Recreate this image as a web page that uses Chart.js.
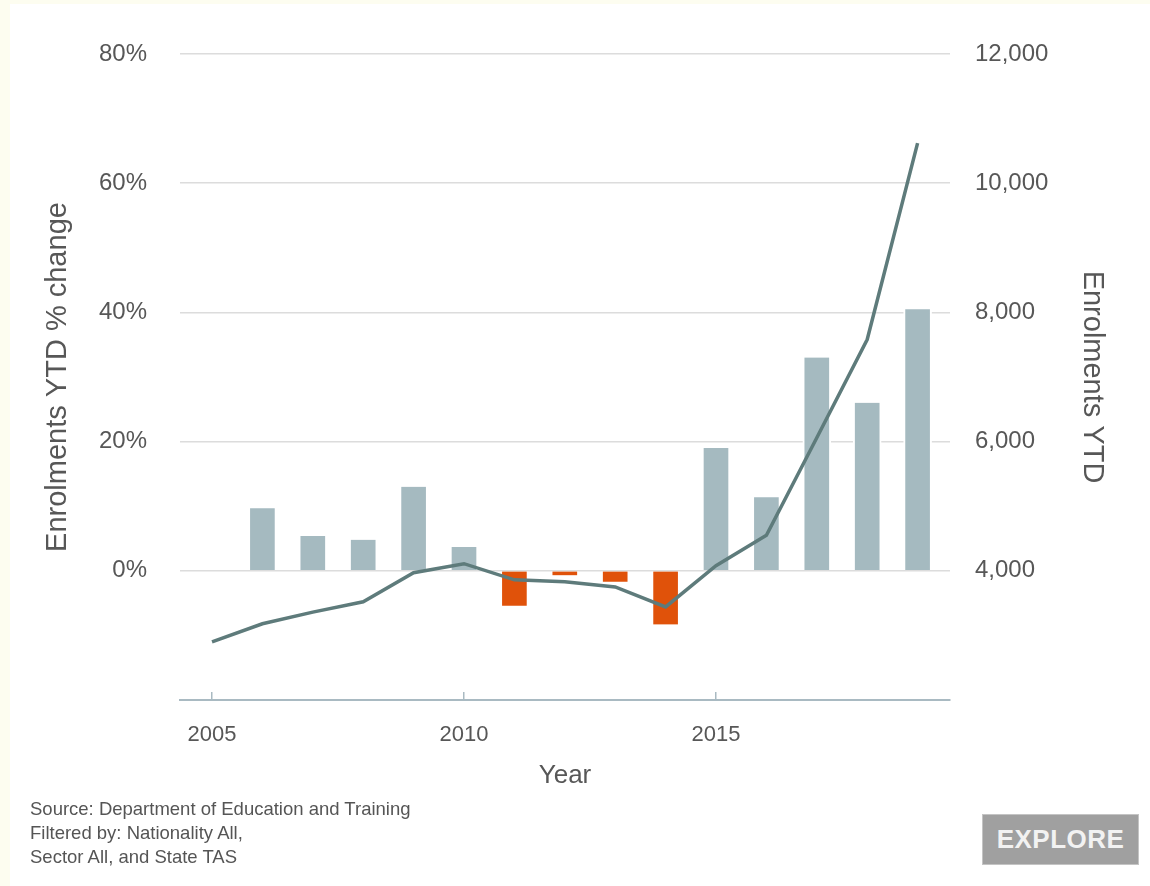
<!DOCTYPE html>
<html lang="en">
<head>
  <meta charset="UTF-8">
  <title>Enrolments YTD</title>
  <script src="https://cdn.jsdelivr.net/npm/chart.js"></script>
  <style>
    * { box-sizing: border-box; margin: 0; padding: 0; }
    body {
      width: 1150px;
      height: 886px;
      background: #fdfdf0;
      font-family: 'Liberation Sans', Arial, sans-serif;
      position: relative;
      overflow: hidden;
    }
    .panel {
      position: absolute;
      left: 10px; top: 4px; right: 0; bottom: 0;
      background: #fff;
    }
    #chart { position: absolute; left: 0; top: 0; }
    .source {
      position: absolute;
      left: 30px;
      top: 797px;
      font-size: 18.5px;
      line-height: 24px;
      color: #555;
    }
    .explore {
      position: absolute;
      left: 982px;
      top: 814px;
      width: 157px;
      height: 51px;
      background: #a0a0a0;
      border: 1px solid #c4c4c4;
      color: #f2f2f2;
      font-weight: bold;
      font-size: 26px;
      line-height: 49px;
      text-align: center;
      letter-spacing: 0.5px;
    }
  </style>
</head>
<body>
  <div class="panel"></div>
  <canvas id="chart" width="1150" height="886"></canvas>
  <div class="source">Source: Department of Education and Training<br>Filtered by: Nationality All,<br>Sector All, and State TAS</div>
  <div class="explore">EXPLORE</div>

  <script>
    // values
    const years = [2005, 2006, 2007, 2008, 2009, 2010, 2011, 2012, 2013, 2014, 2015, 2016, 2017, 2018, 2019];
    const enrolments = [2900, 3180, 3360, 3520, 3970, 4110, 3860, 3830, 3750, 3440, 4080, 4550, 6060, 7580, 10620];
    const changeYears = [2006, 2007, 2008, 2009, 2010, 2011, 2012, 2013, 2014, 2015, 2016, 2017, 2018, 2019];
    const pctChange = [9.7, 5.4, 4.8, 13.0, 3.7, -5.4, -0.7, -1.7, -8.3, 19.0, 11.4, 33.0, 26.0, 40.5];
    const xTicks = [2005, 2010, 2015];

    const POS = '#a5bac0';
    const NEG = '#e0520a';
    const LINE = '#5e7b7b';
    const TEXT = '#575757';
    const FONT = "'Liberation Sans', Arial, sans-serif";

    new Chart(document.getElementById('chart'), {
      data: {
        datasets: [
          {
            type: 'line',
            label: 'Enrolments YTD',
            data: years.map((y, i) => ({ x: y, y: enrolments[i] })),
            yAxisID: 'y2',
            borderColor: LINE,
            borderWidth: 3.5,
            pointRadius: 0,
            tension: 0,
            order: 0
          },
          {
            type: 'bar',
            label: 'Enrolments YTD % change',
            data: changeYears.map((y, i) => ({ x: y, y: pctChange[i] })),
            yAxisID: 'y',
            backgroundColor: pctChange.map(v => v < 0 ? NEG : POS),
            borderColor: '#ffffff',
            borderWidth: { left: 2, right: 2, top: 0, bottom: 0 },
            barThickness: 28,
            order: 1
          }
        ]
      },
      options: {
        responsive: false,
        animation: false,
        events: [],
        layout: { padding: { top: 54, left: 0, right: 0, bottom: 0 } },
        plugins: {
          legend: { display: false },
          tooltip: { enabled: false }
        },
        scales: {
          x: {
            type: 'linear',
            min: 2004.365,
            max: 2019.643,
            offset: false,
            afterBuildTicks: s => { s.ticks = xTicks.map(v => ({ value: v })); },
            afterFit: s => { s.height = 186; },
            ticks: {
              color: TEXT,
              font: { family: FONT, size: 22 },
              padding: 30,
              callback: v => String(v)
            },
            grid: {
              offset: false,
              drawOnChartArea: false,
              drawTicks: true,
              tickLength: -8,
              color: '#a9bac2',
              lineWidth: 1.5
            },
            border: { display: true, color: '#a9bac2', width: 2 },
            title: {
              display: true,
              text: 'Year',
              color: TEXT,
              font: { family: FONT, size: 26 },
              padding: { top: 0, bottom: 95 }
            }
          },
          y: {
            position: 'left',
            min: -20,
            max: 80,
            afterBuildTicks: s => { s.ticks = s.ticks.filter(t => t.value > -20); },
            afterFit: s => { s.width = 180; },
            ticks: {
              stepSize: 20,
              color: TEXT,
              font: { family: FONT, size: 24 },
              padding: 33,
              callback: v => v + '%'
            },
            grid: { color: '#dcdcdc', lineWidth: 1.5, drawTicks: false },
            border: { display: false },
            title: {
              display: true,
              text: 'Enrolments YTD % change',
              color: TEXT,
              font: { family: FONT, size: 29 },
              padding: { top: 41, bottom: 0 }
            }
          },
          y2: {
            position: 'right',
            min: 2000,
            max: 12000,
            afterBuildTicks: s => { s.ticks = s.ticks.filter(t => t.value > 2000); },
            afterFit: s => { s.width = 200; },
            ticks: {
              stepSize: 2000,
              color: TEXT,
              font: { family: FONT, size: 24 },
              padding: 25,
              callback: v => v.toLocaleString('en-US')
            },
            grid: { display: false, drawTicks: false },
            border: { display: false },
            title: {
              display: true,
              text: 'Enrolments YTD',
              color: TEXT,
              font: { family: FONT, size: 29 },
              padding: { top: 41, bottom: 0 }
            }
          }
        }
      }
    });
  </script>
</body>
</html>
